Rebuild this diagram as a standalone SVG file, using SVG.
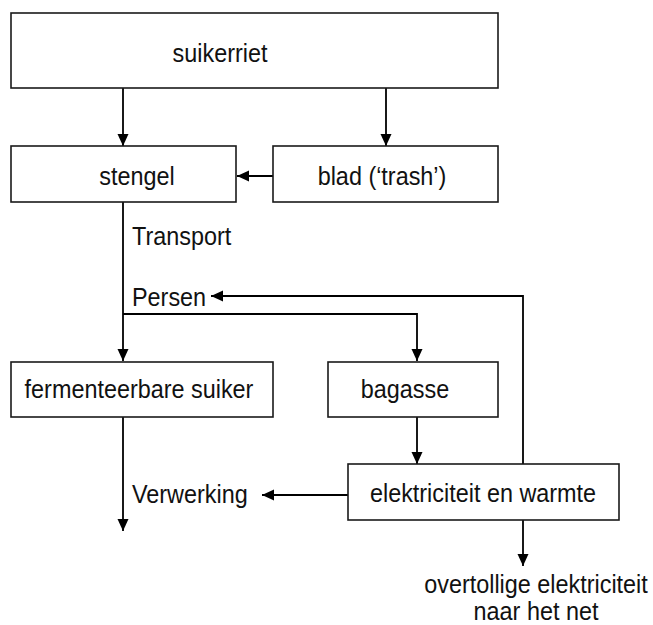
<svg xmlns="http://www.w3.org/2000/svg" width="653" height="625" viewBox="0 0 653 625">
<style>
.box{fill:#fff;stroke:#1a1a1a;stroke-width:1.6}
.ln{fill:none;stroke:#000;stroke-width:1.8}
.arr{marker-end:url(#ah)}
text{font-family:"Liberation Sans",Arial,sans-serif;font-size:26px;fill:#111}
.c{text-anchor:middle}
</style>
<defs>
<marker id="ah" markerUnits="userSpaceOnUse" markerWidth="12" markerHeight="12" viewBox="0 0 12 12" refX="12" refY="6" orient="auto">
<path d="M0,0.5 L12,6 L0,11.5 Z" fill="#000"/>
</marker>
</defs>
<g id="connectors">
<line class="ln arr" x1="123" y1="88" x2="123" y2="146"/>
<line class="ln arr" x1="386" y1="88" x2="386" y2="146"/>
<line class="ln arr" x1="273" y1="176" x2="237" y2="176"/>
<line class="ln arr" x1="123" y1="202" x2="123" y2="361"/>
<polyline class="ln arr" points="123,314 417,314 417,361"/>
<polyline class="ln arr" points="523,464 523,296 211,296"/>
<line class="ln arr" x1="417" y1="417" x2="417" y2="464"/>
<line class="ln arr" x1="123" y1="417" x2="123" y2="531"/>
<line class="ln arr" x1="348" y1="495" x2="262" y2="495"/>
<line class="ln arr" x1="523" y1="520" x2="523" y2="566"/>
</g>
<g id="suikerriet">
<rect class="box" x="11" y="13" width="487" height="75"/>
<text class="c" transform="translate(220,62) scale(0.9,1)">suikerriet</text>
</g>
<g id="stengel">
<rect class="box" x="11" y="146" width="225" height="56"/>
<text class="c" transform="translate(137,185) scale(0.9,1)">stengel</text>
</g>
<g id="blad">
<rect class="box" x="273" y="146" width="225" height="56"/>
<text class="c" transform="translate(382,185) scale(0.9,1)">blad (‘trash’)</text>
</g>
<g id="label-transport">
<text transform="translate(132,245) scale(0.9,1)">Transport</text>
</g>
<g id="label-persen">
<text transform="translate(132,306) scale(0.9,1)">Persen</text>
</g>
<g id="fermenteerbare-suiker">
<rect class="box" x="11" y="362" width="262" height="55"/>
<text class="c" transform="translate(139,398) scale(0.9,1)">fermenteerbare suiker</text>
</g>
<g id="bagasse">
<rect class="box" x="328" y="362" width="170" height="55"/>
<text class="c" transform="translate(405,398) scale(0.9,1)">bagasse</text>
</g>
<g id="label-verwerking">
<text transform="translate(132,503) scale(0.9,1)">Verwerking</text>
</g>
<g id="elektriciteit-en-warmte">
<rect class="box" x="348" y="464" width="271" height="56"/>
<text class="c" transform="translate(483,502) scale(0.9,1)">elektriciteit en warmte</text>
</g>
<g id="overtollige-elektriciteit">
<text class="c" transform="translate(536,593) scale(0.9,1)">overtollige elektriciteit</text>
<text class="c" transform="translate(536,620) scale(0.9,1)">naar het net</text>
</g>
</svg>
